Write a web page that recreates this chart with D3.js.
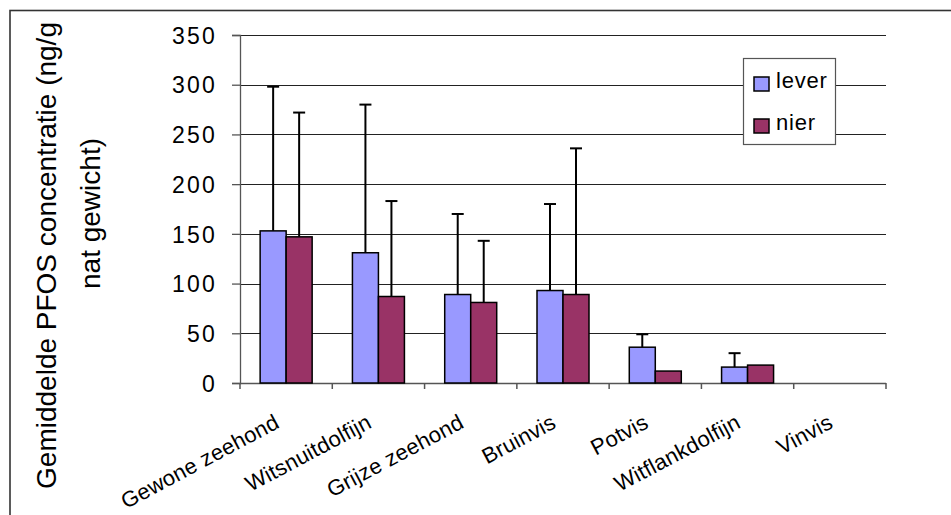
<!DOCTYPE html>
<html>
<head>
<meta charset="utf-8">
<script src="https://cdn.jsdelivr.net/npm/d3@7/dist/d3.min.js"></script>
<style>
  html, body { margin: 0; padding: 0; background: #fff; }
  svg { display: block; }
  text { font-family: "Liberation Sans", Arial, sans-serif; fill: #000; }
</style>
</head>
<body>
<svg id="chart" width="951" height="515"></svg>
<script>
// ---- data ----
const categories = ["Gewone zeehond", "Witsnuitdolfijn", "Grijze zeehond", "Bruinvis", "Potvis", "Witflankdolfijn", "Vinvis"];
const seriesNames = ["lever", "nier"];
const leverValues = [153, 131, 89, 93, 36, 16, 0];
const nierValues  = [147, 87, 81, 89, 12, 18, 0];
const leverErrors = [145, 149, 81, 87, 13, 14, 0];
const nierErrors  = [125, 96, 62, 147, 0, 0, 0];
const yTicks = [0, 50, 100, 150, 200, 250, 300, 350];
const colors = ["#9999FF", "#993366"];

// ---- layout ----
const svg = d3.select("#chart");
const plot = { left: 240, right: 886, top: 35, bottom: 383 };

// outer frame (only top & left visible)
svg.append("rect").attr("x", 10).attr("y", 10.5).attr("width", 1000).attr("height", 600)
  .attr("fill", "none").attr("stroke", "#333").attr("stroke-width", 1.6);

const y = d3.scaleLinear().domain([0, 350]).range([plot.bottom, plot.top]);
const x0 = d3.scaleBand().domain(categories).range([plot.left, plot.right]).paddingInner(0).paddingOuter(0);
const barW = 26;

// gridlines
svg.append("g").selectAll("line").data(yTicks.filter(d => d > 0)).join("line")
  .attr("x1", plot.left).attr("x2", plot.right)
  .attr("y1", d => Math.round(y(d)) + 0.5).attr("y2", d => Math.round(y(d)) + 0.5)
  .attr("stroke", "#222").attr("stroke-width", 1);

// y axis
const yAxis = d3.axisLeft(y).tickValues(yTicks).tickSize(8).tickPadding(14);
const gy = svg.append("g").attr("transform", `translate(${plot.left},0)`).call(yAxis);
gy.select(".domain").attr("stroke", "#555").attr("stroke-width", 1.3);
gy.selectAll(".tick line").attr("stroke", "#555").attr("stroke-width", 1.3);
gy.selectAll(".tick text").attr("font-size", 23).attr("letter-spacing", "2.2px")
  .attr("font-family", "Liberation Sans, Arial, sans-serif").attr("fill", "#000")
  .attr("dy", "0.36em").attr("x", -23);

// x axis
const xEdges = categories.map(c => x0(c)).concat([plot.right]);
const gx = svg.append("g");
gx.append("line").attr("x1", plot.left).attr("x2", plot.right)
  .attr("y1", plot.bottom + 0.5).attr("y2", plot.bottom + 0.5)
  .attr("stroke", "#555").attr("stroke-width", 1.5);
gx.selectAll("line.t").data(xEdges).join("line").attr("class", "t")
  .attr("x1", d => d).attr("x2", d => d)
  .attr("y1", plot.bottom).attr("y2", plot.bottom + 6)
  .attr("stroke", "#555").attr("stroke-width", 1.5);

// bars
const data = categories.map((c, i) => ({ c, vals: [
  { s: 0, v: leverValues[i], e: leverErrors[i] },
  { s: 1, v: nierValues[i], e: nierErrors[i] } ] }));

const groups = svg.append("g").selectAll("g").data(data).join("g")
  .attr("transform", d => `translate(${x0(d.c) + x0.bandwidth() / 2},0)`);

// error bars (drawn behind bars)
groups.selectAll("g.err").data(d => d.vals.filter(v => v.e > 0)).join("g").attr("class", "err")
  .each(function(d) {
    const cx = d.s === 0 ? -barW / 2 : barW / 2;
    const g = d3.select(this);
    g.append("line").attr("x1", cx).attr("x2", cx).attr("y1", y(d.v)).attr("y2", y(d.v + d.e))
      .attr("stroke", "#000").attr("stroke-width", 2);
    g.append("line").attr("x1", cx - 6).attr("x2", cx + 6).attr("y1", y(d.v + d.e)).attr("y2", y(d.v + d.e))
      .attr("stroke", "#000").attr("stroke-width", 2);
  });

groups.selectAll("rect").data(d => d.vals.filter(v => v.v > 0)).join("rect")
  .attr("x", d => d.s === 0 ? -barW : 0)
  .attr("y", d => y(d.v))
  .attr("width", barW)
  .attr("height", d => y(0) - y(d.v))
  .attr("fill", d => colors[d.s])
  .attr("stroke", "#000").attr("stroke-width", 1.5);

// x labels
svg.append("g").selectAll("text").data(categories).join("text")
  .attr("transform", c => `translate(${x0(c) + x0.bandwidth() / 2 - 5.5},427) rotate(-28)`)
  .attr("text-anchor", "end").attr("font-size", 22).attr("letter-spacing", "0.2px")
  .text(c => c);

// y title
svg.append("text").attr("transform", "translate(56,255.5) rotate(-90)")
  .attr("text-anchor", "middle").attr("font-size", 28)
  .text("Gemiddelde PFOS concentratie (ng/g");
svg.append("text").attr("transform", "translate(100,213.5) rotate(-90)")
  .attr("text-anchor", "middle").attr("font-size", 28)
  .text("nat gewicht)");

// legend
const lg = svg.append("g");
lg.append("rect").attr("x", 743.5).attr("y", 58.5).attr("width", 92).attr("height", 86)
  .attr("fill", "#fff").attr("stroke", "#555").attr("stroke-width", 1.2);
const items = lg.selectAll("g.item").data(seriesNames).join("g").attr("class", "item")
  .attr("transform", (d, i) => `translate(0,${i * 42})`);
items.append("rect").attr("x", 754).attr("y", 77).attr("width", 15).attr("height", 14)
  .attr("fill", (d, i) => colors[i]).attr("stroke", "#000").attr("stroke-width", 1.5);
items.append("text").attr("x", 776).attr("y", 87.5).attr("font-size", 22).attr("letter-spacing", "0.8px")
  .text(d => d);
</script>
</body>
</html>
